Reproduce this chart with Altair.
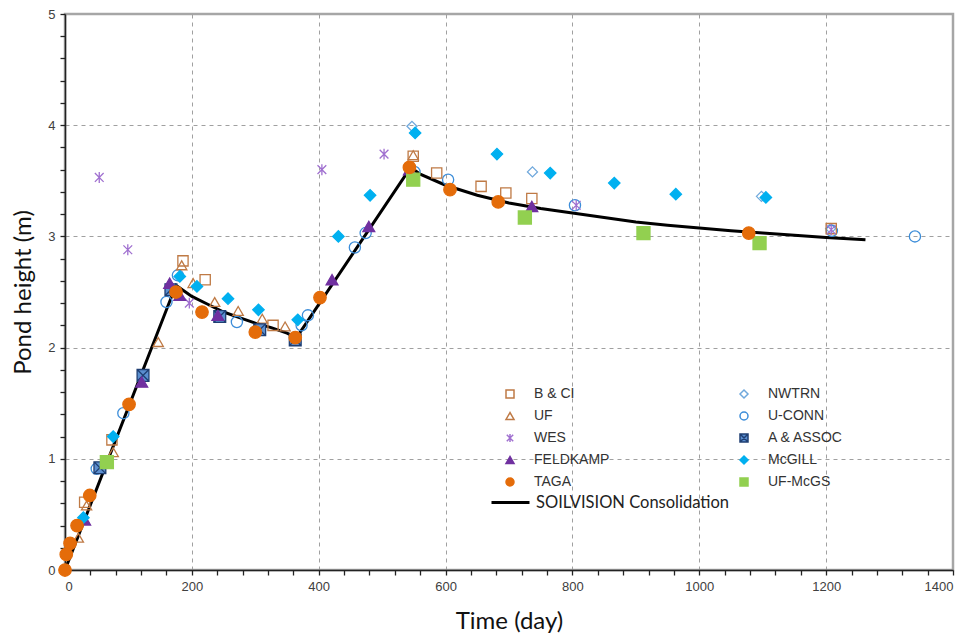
import altair as alt
import pandas as pd

# ---- data ----
BCI_t = [31, 74, 186, 221, 328, 549, 586, 656, 695, 736, 1208]
BCI_h = [0.61, 1.17, 2.78, 2.61, 2.20, 3.72, 3.57, 3.45, 3.39, 3.34, 3.07]

UF_t = [21, 34, 76, 147, 184, 202, 236, 273, 311, 347, 549]
UF_h = [0.29, 0.58, 1.06, 2.05, 2.74, 2.58, 2.41, 2.33, 2.26, 2.19, 3.73]

WES_t = [54, 99, 196, 405, 503, 806, 1208]
WES_h = [3.53, 2.88, 2.40, 3.60, 3.74, 3.28, 3.06]

FELD_t = [31, 121, 165, 181, 241, 421, 479, 543, 736]
FELD_h = [0.45, 1.69, 2.58, 2.47, 2.29, 2.61, 3.09, 3.60, 3.27]

TAGA_t = [0, 2, 8, 19, 39, 101, 175, 216, 300, 363, 402, 543, 607, 683, 1078]
TAGA_h = [0.0, 0.14, 0.24, 0.40, 0.67, 1.49, 2.50, 2.32, 2.14, 2.09, 2.45, 3.62, 3.42, 3.31, 3.03]

NWTRN_t = [547, 737, 1098, 1207]
NWTRN_h = [3.99, 3.58, 3.36, 3.07]

UCONN_t = [50, 92, 160, 178, 271, 373, 383, 457, 474, 551, 604, 804, 1209, 1340]
UCONN_h = [0.91, 1.41, 2.41, 2.65, 2.23, 2.20, 2.29, 2.90, 3.03, 3.58, 3.51, 3.28, 3.05, 3.00]

AASSOC_t = [55, 123, 167, 244, 307, 363]
AASSOC_h = [0.92, 1.75, 2.52, 2.28, 2.16, 2.07]

MCGILL_t = [29, 76, 181, 208, 257, 305, 367, 431, 481, 552, 681, 765, 866, 963, 1105]
MCGILL_h = [0.47, 1.20, 2.64, 2.55, 2.44, 2.34, 2.25, 3.00, 3.37, 3.93, 3.74, 3.57, 3.48, 3.38, 3.35]

UFMCGS_t = [66, 549, 725, 912, 1095]
UFMCGS_h = [0.97, 3.51, 3.17, 3.03, 2.94]

SV_t = [0, 175, 190, 200, 225, 250, 275, 300, 325, 350, 365, 545, 560, 600, 650,
        700, 750, 800, 850, 900, 950, 1000, 1050, 1100, 1150, 1200, 1262]
SV_h = [0.0, 2.56, 2.50, 2.46, 2.39, 2.32, 2.27, 2.22, 2.18, 2.13, 2.09, 3.62, 3.56, 3.46, 3.37,
        3.30, 3.25, 3.21, 3.17, 3.13, 3.10, 3.075, 3.05, 3.03, 3.01, 2.99, 2.97]

# legend order (column-wise for two columns)
legend_order = ["B & CI", "UF", "WES", "FELDKAMP", "TAGA",
                "NWTRN", "U-CONN", "A & ASSOC", "McGILL", "UF-McGS"]

ASTER = "M0,-1L0,1M-0.8,-0.8L0.8,0.8M-0.8,0.8L0.8,-0.8"
XSQ = "M-1,-1L1,-1L1,1L-1,1Z M-1,-1L1,1 M-1,1L1,-1"

style = {
    "B & CI":    ("square",        "transparent", "#BF7A45", 105),
    "NWTRN":     ("diamond",       "transparent", "#6FA8DC", 100),
    "UF":        ("triangle-up",   "transparent", "#BF7A45", 105),
    "U-CONN":    ("circle",        "transparent", "#3C8DD9", 125),
    "WES":       (ASTER,           "transparent", "#A070D0", 120),
    "A & ASSOC": (XSQ,             "#5B8FD0",     "#1F3F73", 140),
    "FELDKAMP":  ("triangle-up",   "#7030A0",     "#7030A0", 140),
    "McGILL":    ("diamond",       "#00B0F0",     "#00B0F0", 130),
    "TAGA":      ("circle",        "#E46C0A",     "#E46C0A", 155),
    "UF-McGS":   ("square",        "#92D050",     "#92D050", 170),
}

series = [
    ("NWTRN", NWTRN_t, NWTRN_h),
    ("U-CONN", UCONN_t, UCONN_h),
    ("B & CI", BCI_t, BCI_h),
    ("UF", UF_t, UF_h),
    ("WES", WES_t, WES_h),
    ("A & ASSOC", AASSOC_t, AASSOC_h),
    ("FELDKAMP", FELD_t, FELD_h),
    ("McGILL", MCGILL_t, MCGILL_h),
    ("UF-McGS", UFMCGS_t, UFMCGS_h),
    ("TAGA", TAGA_t, TAGA_h),
]

rows = []
for name, ts, hs in series:
    for t, h in zip(ts, hs):
        rows.append({"series": name, "t": t, "h": h, "sz": style[name][3]})
pts = pd.DataFrame(rows)
line_df = pd.DataFrame({"t": SV_t, "h": SV_h, "curve": "SOILVISION Consolidation"})

shapes = [style[k][0] for k in legend_order]
fills = [style[k][1] for k in legend_order]
strokes = [style[k][2] for k in legend_order]

xvals = list(range(0, 1401, 40))
yvals = [round(i * 0.2, 1) for i in range(0, 26)]

x_enc = alt.X("t:Q", scale=alt.Scale(domain=[0, 1400], nice=False),
              title="Time (day)",
              axis=alt.Axis(values=xvals,
                            labelExpr="datum.value % 200 == 0 ? datum.label : ''",
                            format="d", labelOverlap=False,
                            gridOpacity={"condition": {"test": "datum.value % 200 == 0 && datum.value > 0 && datum.value < 1400", "value": 1}, "value": 0},
                            titlePadding=16))
y_enc = alt.Y("h:Q", scale=alt.Scale(domain=[0, 5], nice=False),
              title="Pond height (m)",
              axis=alt.Axis(values=yvals,
                            labelExpr="abs(datum.value - round(datum.value)) < 0.001 ? format(datum.value, 'd') : ''",
                            labelOverlap=False,
                            gridOpacity={"condition": {"test": "abs(datum.value - round(datum.value)) < 0.001 && datum.value > 0.5 && datum.value < 4.5", "value": 1}, "value": 0},
                            titlePadding=12))

line = alt.Chart(line_df).mark_line(strokeWidth=3, clip=False).encode(
    x=x_enc, y=y_enc,
    color=alt.Color("curve:N", scale=alt.Scale(range=["black"]),
                    legend=alt.Legend(title=None, orient="none", legendX=425, legendY=468,
                                      symbolType="stroke", symbolSize=1444, symbolStrokeWidth=3,
                                      labelFont="Lato", labelFontSize=16.5, labelColor="#222",
                                      labelOffset=5, labelLimit=400, padding=0)),
)

pts_layer = alt.Chart(pts).mark_point(opacity=1, strokeWidth=1.3, filled=False).encode(
    x=x_enc, y=y_enc,
    shape=alt.Shape("series:N", scale=alt.Scale(domain=legend_order, range=shapes),
                    legend=alt.Legend(title=None, orient="none", legendX=438, legendY=373,
                                      columns=2, columnPadding=127, rowPadding=8,
                                      symbolSize=64, symbolStrokeWidth=1.5,
                                      labelFont="Liberation Sans", labelFontSize=14,
                                      labelColor="#333", labelOffset=17, padding=0)),
    fill=alt.Fill("series:N", scale=alt.Scale(domain=legend_order, range=fills)),
    stroke=alt.Stroke("series:N", scale=alt.Scale(domain=legend_order, range=strokes)),
    size=alt.Size("sz:Q", scale=None, legend=None),
)

chart = alt.layer(line, pts_layer).resolve_legend(color="independent").properties(
    width=888, height=556,
    autosize=alt.AutoSizeParams(type="none"),
    padding={"left": 57, "top": 6, "right": 14, "bottom": 70},
).configure_view(
    stroke="#A6A6A6", strokeWidth=2.5
).configure_axis(
    labelFont="Liberation Sans", labelFontSize=13, labelColor="#404040",
    titleFont="Lato", titleFontSize=24, titleFontWeight="normal", titleColor="#111",
    domainColor="#222", domainWidth=1.5, tickColor="#222", tickSize=5, tickWidth=1.3,
    labelPadding=5, labelOverlap=False,
    gridColor="#A0A0A0", gridDash=[4, 4], gridWidth=1,
).configure_legend(
    symbolLimit=0
)

chart.save("out.html", embed_options={"renderer": "svg", "actions": False})
